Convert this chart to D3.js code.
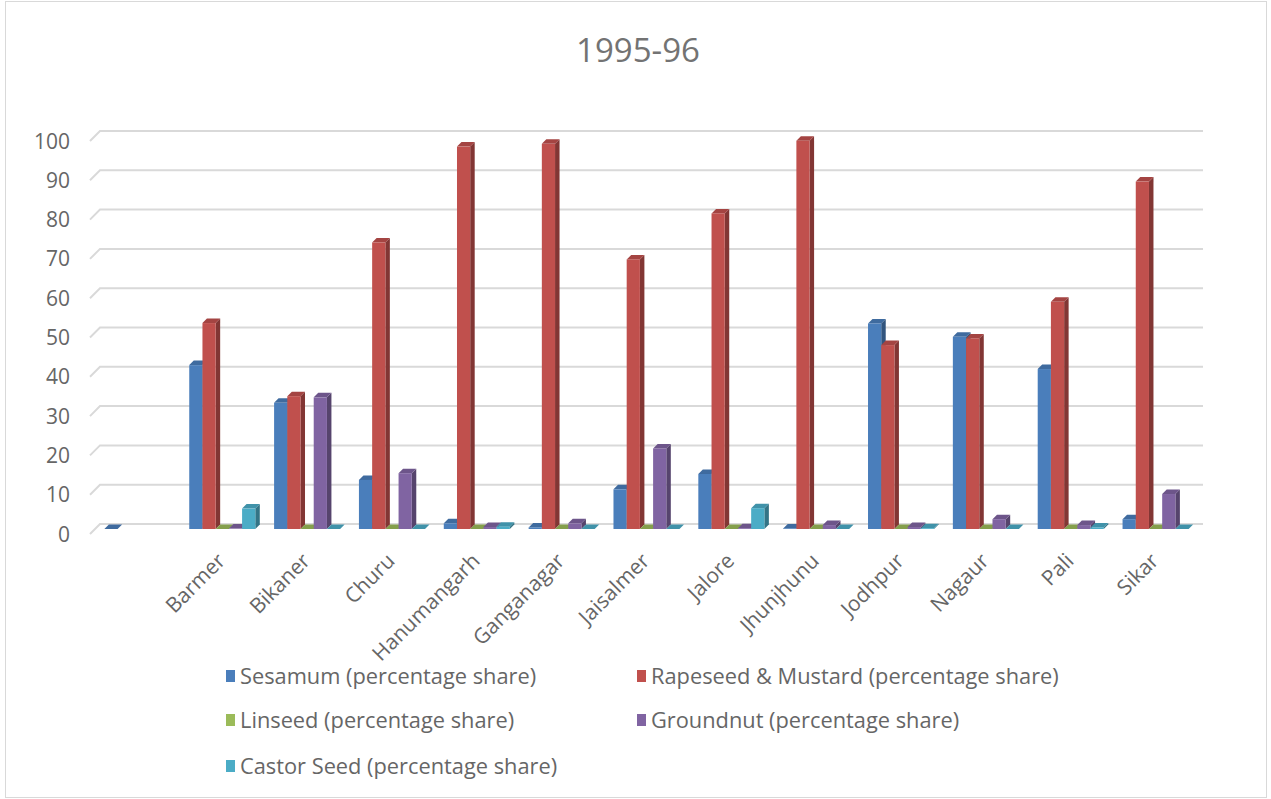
<!DOCTYPE html>
<html><head><meta charset="utf-8">
<script src="https://cdnjs.cloudflare.com/ajax/libs/d3/7.8.5/d3.min.js"></script>
<style>html,body{margin:0;padding:0;background:#fff;} svg{display:block;}</style>
</head><body>
<svg id="chart" width="1271" height="799"></svg>
<script>
const title = "1995-96";
const categories = ["", "Barmer", "Bikaner", "Churu", "Hanumangarh", "Ganganagar", "Jaisalmer", "Jalore", "Jhunjhunu", "Jodhpur", "Nagaur", "Pali", "Sikar"];
const seriesNames = ["Sesamum (percentage share)", "Rapeseed & Mustard (percentage share)", "Linseed (percentage share)", "Groundnut (percentage share)", "Castor Seed (percentage share)"];
const sesamum   = [0, 41.7, 32.1, 12.5, 1.45, 0.4, 10.1, 14.0, 0.15, 52.3, 48.9, 40.7, 2.5];
const rapeseed  = [null, 52.4, 33.8, 72.9, 97.3, 98.0, 68.6, 80.3, 98.8, 46.8, 48.5, 57.8, 88.4];
const linseed   = [null, 0, 0, 0, 0, 0, 0, 0, 0, 0, 0, 0, 0];
const groundnut = [null, 0.1, 33.5, 14.2, 0.5, 1.45, 20.5, 0.2, 1.0, 0.5, 2.5, 1.0, 8.9];
const castor    = [null, 5.2, 0, 0, 0.6, 0, 0, 5.3, 0, 0.2, 0, 0.4, 0];
const yTicks = [0, 10, 20, 30, 40, 50, 60, 70, 80, 90, 100];
const colors = ["#4a7ebb", "#c0504d", "#9bbb59", "#8064a2", "#4bacc6"];
const seriesValues = [sesamum, rapeseed, linseed, groundnut, castor];

const svg = d3.select("#chart");
const font = "'Open Sans', 'Noto Sans', sans-serif";

// chart border
svg.append("rect").attr("x", 5.5).attr("y", 1.5).attr("width", 1261).attr("height", 796)
  .attr("fill", "#fff").attr("stroke", "#d9d9d9").attr("stroke-width", 1);

// title
svg.append("text").attr("x", 638).attr("y", 62).attr("text-anchor", "middle")
  .attr("font-family", font).attr("font-size", 33).attr("fill", "#737373").text(title);

// geometry
const backLeft = 100, backRight = 1203;
const depth = 10;        // floor depth offset
const barShift = 5;      // bars sit at mid depth
const barDepth = 4.5;
const yBack = d3.scaleLinear().domain([0, 100]).range([524, 131]);

// gridlines
const grid = svg.append("g");
yTicks.forEach(t => {
  const y = yBack(t);
  grid.append("path")
    .attr("d", `M${backLeft - depth},${y + depth}L${backLeft},${y}L${backRight},${y}`)
    .attr("fill", "none").attr("stroke", "#d9d9d9").attr("stroke-width", 2);
});

// y tick labels
svg.append("g").selectAll("text").data(yTicks).join("text")
  .attr("x", 70).attr("y", d => yBack(d) + depth).attr("dy", "0.36em")
  .attr("text-anchor", "end").attr("font-family", font).attr("font-size", 21)
  .attr("fill", "#666").text(d => d);

// x scales (at bar depth)
const x0 = d3.scaleBand().domain(d3.range(categories.length))
  .range([backLeft - barShift, backRight - barShift]).padding(0);
const bw = x0.bandwidth();
const x1 = d3.scaleBand().domain(d3.range(seriesNames.length)).range([9.4, bw - 9.4]).padding(0);
const w = x1.bandwidth();
const yBar = v => yBack(v) + barShift;
const y0 = yBar(0);

const bars = svg.append("g");
categories.forEach((c, ci) => {
  seriesValues.forEach((vals, si) => {
    const v = vals[ci];
    if (v === null || v === undefined) return;
    const x = x0(ci) + x1(si);
    const y = yBar(v);
    const base = d3.color(colors[si]);
    const d = barDepth;
    const g = bars.append("g");
    g.append("path").attr("d", `M${x + w},${y}L${x + w + d},${y - d}L${x + w + d},${y0 - d}L${x + w},${y0}Z`)
      .attr("fill", base.darker(1.1).formatHex());
    g.append("path").attr("d", `M${x},${y}L${x + d},${y - d}L${x + w + d},${y - d}L${x + w},${y}Z`)
      .attr("fill", base.darker(0.45).formatHex());
    g.append("rect").attr("x", x).attr("y", y).attr("width", w).attr("height", Math.max(0, y0 - y))
      .attr("fill", base.formatHex());
  });
});

// x labels
svg.append("g").selectAll("text").data(categories).join("text")
  .attr("transform", (d, i) => `translate(${x0(i) + bw / 2 - 1},${557}) rotate(-45)`)
  .attr("text-anchor", "end").attr("dy", "0.35em")
  .attr("font-family", font).attr("font-size", 21).attr("fill", "#666").text(d => d);

// legend
const legendPos = [[226, 676], [637, 676], [226, 720], [637, 720], [226, 766]];
const leg = svg.append("g");
seriesNames.forEach((n, i) => {
  const [lx, ly] = legendPos[i];
  leg.append("rect").attr("x", lx).attr("y", ly - 6).attr("width", 9).attr("height", 12).attr("fill", colors[i]);
  leg.append("text").attr("x", lx + 14).attr("y", ly).attr("dy", "0.36em")
    .attr("font-family", font).attr("font-size", 21.8).attr("fill", "#666").text(n);
});
</script>
</body></html>
